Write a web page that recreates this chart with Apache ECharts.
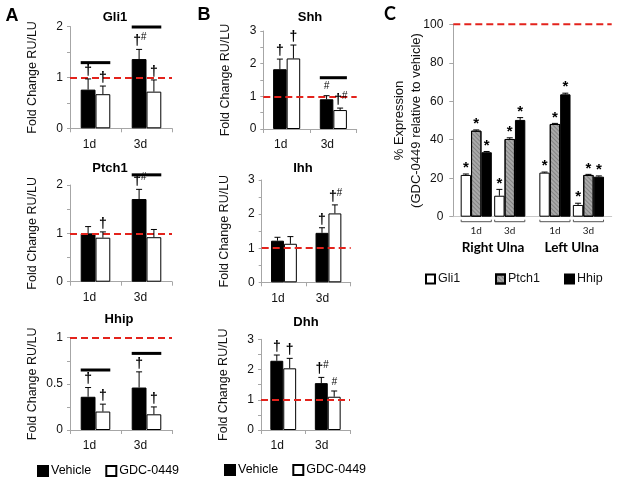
<!DOCTYPE html>
<html><head><meta charset="utf-8">
<script src="https://cdn.jsdelivr.net/npm/echarts@6/dist/echarts.min.js"></script>
<style>html,body{margin:0;padding:0;background:#fff}#c{width:621px;height:479px}</style>
</head><body><div id="c"></div>
<script>
// ---------- data ----------
const days = ['1d', '3d'];
// Panel A
const gli1Vehicle = [0.76, 1.36];
const gli1VehicleErr = [0.21, 0.19];
const gli1Gdc = [0.67, 0.72];
const gli1GdcErr = [0.16, 0.23];
const gli1VehicleSig = ['†', '†#'];
const gli1GdcSig = ['†', '†'];
const gli1Bars = [1.29, 1.99];

const ptch1Vehicle = [1.00, 1.71];
const ptch1VehicleErr = [0.14, 0.20];
const ptch1Gdc = [0.91, 0.92];
const ptch1GdcErr = [0.12, 0.16];
const ptch1VehicleSig = ['', '†#'];
const ptch1GdcSig = ['†', ''];
const ptch1Bars = [null, 2.21];

const hhipVehicle = [0.36, 0.46];
const hhipVehicleErr = [0.10, 0.17];
const hhipGdc = [0.20, 0.17];
const hhipGdcErr = [0.08, 0.08];
const hhipVehicleSig = ['†', '†'];
const hhipGdcSig = ['†', '†'];
const hhipBars = [0.65, 0.83];

// Panel B
const shhVehicle = [1.83, 0.91];
const shhVehicleErr = [0.31, 0.11];
const shhGdc = [2.16, 0.58];
const shhGdcErr = [0.41, 0.06];
const shhVehicleSig = ['†', '#'];
const shhGdcSig = ['†', '†#'];
const shhBars = [null, 1.57];

const ihhVehicle = [1.22, 1.45];
const ihhVehicleErr = [0.10, 0.15];
const ihhGdc = [1.13, 2.02];
const ihhGdcErr = [0.21, 0.25];
const ihhVehicleSig = ['', '†'];
const ihhGdcSig = ['', '†#'];
const ihhBars = [null, null];

const dhhVehicle = [2.29, 1.55];
const dhhVehicleErr = [0.19, 0.19];
const dhhGdc = [2.04, 1.10];
const dhhGdcErr = [0.33, 0.19];
const dhhVehicleSig = ['†', '†#'];
const dhhGdcSig = ['†', '#'];
const dhhBars = [null, null];

const foldRef = 1;

// Panel C (% expression, GDC-0449 relative to vehicle)
const cRightGli1 = [21.7, 10.9];
const cRightGli1Err = [0.5, 3.3];
const cRightPtch1 = [44.7, 40.4];
const cRightPtch1Err = [0.4, 0.6];
const cRightHhip = [33.5, 50.3];
const cRightHhipErr = [0.4, 1.2];
const cLeftGli1 = [22.9, 6.1];
const cLeftGli1Err = [0.3, 0.9];
const cLeftPtch1 = [48.2, 21.7];
const cLeftPtch1Err = [0.3, 0.3];
const cLeftHhip = [63.6, 20.8];
const cLeftHhipErr = [0.6, 0.4];
const cSig = ['*', '*'];
const cRef = 100;
const cTicks = [0, 100, 20];

// ---------- layout / styles ----------
const F = "'Liberation Sans', Arial, sans-serif";
const AX = '#a6a6a6';
const RED = '#e3231c';

const panels = [
  {name:'Gli1', veh:gli1Vehicle, vehErr:gli1VehicleErr, gdc:gli1Gdc, gdcErr:gli1GdcErr, vehSig:gli1VehicleSig, gdcSig:gli1GdcSig, lines:gli1Bars, max:2, interval:1,
   grid:{left:70, width:102, top:26.5, height:101.8}, title:[115, 17]},
  {name:'Ptch1', veh:ptch1Vehicle, vehErr:ptch1VehicleErr, gdc:ptch1Gdc, gdcErr:ptch1GdcErr, vehSig:ptch1VehicleSig, gdcSig:ptch1GdcSig, lines:ptch1Bars, max:2, interval:1,
   grid:{left:70, width:102, top:185, height:96.7}, title:[110, 168]},
  {name:'Hhip', veh:hhipVehicle, vehErr:hhipVehicleErr, gdc:hhipGdc, gdcErr:hhipGdcErr, vehSig:hhipVehicleSig, gdcSig:hhipGdcSig, lines:hhipBars, max:1, interval:0.5,
   grid:{left:70, width:102, top:337.7, height:92.3}, title:[119, 319.5]},
  {name:'Shh', veh:shhVehicle, vehErr:shhVehicleErr, gdc:shhGdc, gdcErr:shhGdcErr, vehSig:shhVehicleSig, gdcSig:shhGdcSig, lines:shhBars, max:3, interval:1,
   grid:{left:263.3, width:93.4, top:31, height:98}, title:[310, 17]},
  {name:'Ihh', veh:ihhVehicle, vehErr:ihhVehicleErr, gdc:ihhGdc, gdcErr:ihhGdcErr, vehSig:ihhVehicleSig, gdcSig:ihhGdcSig, lines:ihhBars, max:3, interval:1,
   grid:{left:261.7, width:89, top:180, height:102.3}, title:[303, 168.5]},
  {name:'Dhh', veh:dhhVehicle, vehErr:dhhVehicleErr, gdc:dhhGdc, gdcErr:dhhGdcErr, vehSig:dhhVehicleSig, gdcSig:dhhGdcSig, lines:dhhBars, max:3, interval:1,
   grid:{left:261, width:89, top:339.3, height:90.7}, title:[306, 322.7]}
];

function txt(t, x, y, font) {
  return {type:'text', style:{text:t, x:x, y:y, fill:'#000', font:font,
    align:'center', verticalAlign:'middle', textAlign:'center', textVerticalAlign:'middle'}};
}

function sigElems(s, x, y) {
  const out = [];
  if (!s) return out;
  const hasD = s.indexOf('†') >= 0, hasH = s.indexOf('#') >= 0, hasA = s.indexOf('*') >= 0;
  const dFont = 'bold 14px ' + F, hFont = 'italic 10px ' + F;
  if (hasA) out.push(txt('*', x, y - 6, 'bold 15px ' + F));
  if (hasD && hasH) {
    out.push(txt('†', x - 2, y - 8, dFont));
    out.push(txt('#', x + 4.5, y - 12, hFont));
  } else if (hasD) {
    out.push(txt('†', x, y - 8, dFont));
  } else if (hasH) {
    out.push(txt('#', x, y - 9, hFont));
  }
  return out;
}

function errSeries(gi, groups, barPct) {
  const n = groups.length;
  const items = [], sigs = [];
  groups.forEach((g, s) => g.vals.forEach((v, i) => { items.push([i, v, v + g.errs[i], s]); sigs.push(g.sigs[i]); }));
  return {
    type:'custom', xAxisIndex:gi, yAxisIndex:gi, z:6, silent:true, data:items, clip:false,
    renderItem(params, api) {
      const cat = api.value(0), v = api.value(1), top = api.value(2), s = api.value(3);
      const cw = api.size([1, 0])[0], bw = cw * barPct;
      const b = api.coord([cat, v]), t = api.coord([cat, top]);
      const x = b[0] + (s - (n - 1) / 2) * bw;
      const ch = [
        {type:'line', shape:{x1:x, y1:b[1], x2:x, y2:t[1]}, style:{stroke:'#000', lineWidth:1}},
        {type:'line', shape:{x1:x - 3, y1:t[1], x2:x + 3, y2:t[1]}, style:{stroke:'#000', lineWidth:1}}
      ].concat(sigElems(sigs[params.dataIndex], x, t[1]));
      return {type:'group', children:ch};
    }
  };
}

function sigLineSeries(gi, lines, barPct) {
  const data = [];
  lines.forEach((v, i) => { if (v != null) data.push([i, v]); });
  return {
    type:'custom', xAxisIndex:gi, yAxisIndex:gi, z:6, silent:true, data:data, clip:false,
    renderItem(params, api) {
      const p = api.coord([api.value(0), api.value(1)]);
      const bw = api.size([1, 0])[0] * barPct;
      return {type:'line', shape:{x1:p[0] - bw, y1:p[1], x2:p[0] + bw, y2:p[1]}, style:{stroke:'#000', lineWidth:3}};
    }
  };
}

const grids = [], xAxes = [], yAxes = [], series = [], graphics = [];
const BP = 0.29;

panels.forEach((p, gi) => {
  grids.push(p.grid);
  xAxes.push({type:'category', gridIndex:gi, data:days,
    axisLine:{lineStyle:{color:AX}}, axisTick:{show:true, length:4, lineStyle:{color:AX}},
    axisLabel:{fontSize:12, fontFamily:F, color:'#111', margin:10, padding:[0, 12, 0, 0]}});
  yAxes.push({type:'value', gridIndex:gi, min:0, max:p.max, interval:p.interval,
    name:'Fold Change RU/LU', nameLocation:'middle', nameGap:31,
    nameTextStyle:{fontSize:12.5, fontFamily:F, color:'#111'},
    axisLine:{show:true, lineStyle:{color:AX}}, axisTick:{show:true, length:3, lineStyle:{color:AX}},
    minorTick:{show:true, splitNumber:2, length:3, lineStyle:{color:AX}},
    splitLine:{show:false},
    axisLabel:{fontSize:12, fontFamily:F, color:'#111', margin:7}});
  series.push({type:'bar', name:'Vehicle', xAxisIndex:gi, yAxisIndex:gi, data:p.veh, barWidth:'29%', barGap:'0%',
    itemStyle:{color:'#000', borderColor:'#000', borderWidth:1}});
  series.push({type:'bar', name:'GDC-0449', xAxisIndex:gi, yAxisIndex:gi, data:p.gdc, barWidth:'29%', barGap:'0%',
    itemStyle:{color:'#fff', borderColor:'#000', borderWidth:1},
    markLine:{silent:true, symbol:'none', z:5, label:{show:false},
      lineStyle:{color:RED, type:[7, 4], width:2}, data:[{yAxis:foldRef}]}});
  series.push(errSeries(gi, [{vals:p.veh, errs:p.vehErr, sigs:p.vehSig}, {vals:p.gdc, errs:p.gdcErr, sigs:p.gdcSig}], BP));
  series.push(sigLineSeries(gi, p.lines, BP));
  graphics.push({type:'text', x:p.title[0], y:p.title[1], style:{text:p.name, font:'bold 13px ' + F, fill:'#000',
    align:'center', verticalAlign:'middle', textAlign:'center', textVerticalAlign:'middle'}});
});

// Panel C: frame grid (6), right ulna (7), left ulna (8)
const cTop = 24.3, cH = 192.4;
grids.push({left:453.3, right:9.3, top:cTop, height:cH});
grids.push({left:459.5, width:67, top:cTop, height:cH});
grids.push({left:538.2, width:67, top:cTop, height:cH});
xAxes.push({type:'value', gridIndex:6, min:0, max:1, axisLine:{show:true, lineStyle:{color:'#c8c8c8'}},
  axisTick:{show:false}, axisLabel:{show:false}, splitLine:{show:false}});
yAxes.push({type:'value', gridIndex:6, min:cTicks[0], max:cTicks[1], interval:cTicks[2],
  name:'% Expression\n(GDC-0449 relative to vehicle)', nameLocation:'middle', nameGap:28, nameMoveOverlap:false,
  nameTextStyle:{fontSize:13, fontFamily:F, color:'#111', lineHeight:17},
  axisLine:{show:true, lineStyle:{color:AX}}, axisTick:{show:true, length:4, lineStyle:{color:AX}},
  splitLine:{show:false}, axisLabel:{fontSize:12, fontFamily:F, color:'#111', margin:10}});
series.push({type:'custom', xAxisIndex:6, yAxisIndex:6, z:5, silent:true, clip:false, data:[[0, cRef]],
  renderItem(params, api) {
    const cs = params.coordSys; const p = api.coord([0, api.value(1)]);
    return {type:'line', shape:{x1:cs.x, y1:p[1], x2:cs.x + cs.width, y2:p[1]},
      style:{stroke:RED, lineWidth:2, lineDash:[7, 4]}};
  }});

const sides = [
  {gi:7, name:'Right Ulna', g:cRightGli1, ge:cRightGli1Err, p:cRightPtch1, pe:cRightPtch1Err, h:cRightHhip, he:cRightHhipErr},
  {gi:8, name:'Left Ulna', g:cLeftGli1, ge:cLeftGli1Err, p:cLeftPtch1, pe:cLeftPtch1Err, h:cLeftHhip, he:cLeftHhipErr}
];
const CBP = 0.31;
sides.forEach(sd => {
  xAxes.push({type:'category', gridIndex:sd.gi, data:days, axisLine:{show:false}, axisTick:{show:false},
    axisLabel:{fontSize:10, fontFamily:'Lato, sans-serif', color:'#222', margin:9},
    name:sd.name, nameLocation:'middle', nameGap:24,
    nameTextStyle:{fontSize:13.5, fontWeight:'bold', fontFamily:'Lato, sans-serif', color:'#000'}});
  yAxes.push({type:'value', gridIndex:sd.gi, min:cTicks[0], max:cTicks[1], show:false, splitLine:{show:false}});
  series.push({type:'bar', name:'Gli1', xAxisIndex:sd.gi, yAxisIndex:sd.gi, data:sd.g, barWidth:'31%', barGap:'0%',
    itemStyle:{color:'#fff', borderColor:'#000', borderWidth:1}});
  series.push({type:'bar', name:'Ptch1', xAxisIndex:sd.gi, yAxisIndex:sd.gi, data:sd.p, barWidth:'31%', barGap:'0%',
    itemStyle:{color:'#a9a9a9', borderColor:'#000', borderWidth:1,
      decal:{symbol:'rect', symbolSize:1, dashArrayX:[1, 0], dashArrayY:[1, 2], rotation:Math.PI / 4, color:'rgba(60,60,60,0.35)'}}});
  series.push({type:'bar', name:'Hhip', xAxisIndex:sd.gi, yAxisIndex:sd.gi, data:sd.h, barWidth:'31%', barGap:'0%',
    itemStyle:{color:'#000', borderColor:'#000', borderWidth:1}});
  series.push(errSeries(sd.gi, [{vals:sd.g, errs:sd.ge, sigs:cSig}, {vals:sd.p, errs:sd.pe, sigs:cSig}, {vals:sd.h, errs:sd.he, sigs:cSig}], CBP));
  // bracket under each category (multi-level axis look)
  series.push({type:'custom', xAxisIndex:sd.gi, yAxisIndex:sd.gi, z:5, silent:true, clip:false,
    data:days.map((d, i) => [i, 0]),
    renderItem(params, api) {
      const p = api.coord([api.value(0), 0]);
      const half = api.size([1, 0])[0] * 0.45;
      const y = p[1] + 5;
      return {type:'polyline', shape:{points:[[p[0] - half, y - 2], [p[0] - half, y], [p[0] + half, y], [p[0] + half, y - 2]]},
        style:{stroke:'#555', lineWidth:1, fill:null}};
    }});
});

// panel letters
graphics.push({type:'text', x:12, y:16, style:{text:'A', font:'bold 18px ' + F, fill:'#000', align:'center', verticalAlign:'middle', textAlign:'center', textVerticalAlign:'middle'}});
graphics.push({type:'text', x:204, y:15, style:{text:'B', font:'bold 18px ' + F, fill:'#000', align:'center', verticalAlign:'middle', textAlign:'center', textVerticalAlign:'middle'}});
graphics.push({type:'text', x:390, y:14, style:{text:'C', font:'bold 18px Lato, sans-serif', fill:'#000', align:'center', verticalAlign:'middle', textAlign:'center', textVerticalAlign:'middle'}});

const legText = {fontSize:12.5, fontFamily:F, color:'#000', padding:[0, 0, 0, -2]};
const legendC = {fontSize:12.5, fontFamily:F, color:'#111', padding:[0, 0, 0, -2]};
const option = {
  animation:false,
  backgroundColor:'#fff',
  grid:grids, xAxis:xAxes, yAxis:yAxes, series:series, graphic:graphics,
  legend:[
    {data:['Vehicle', 'GDC-0449'], left:37, top:464.5, padding:0, icon:'rect', itemWidth:10, itemHeight:10, itemGap:14, textStyle:legText, selectedMode:false},
    {data:['Vehicle', 'GDC-0449'], left:224, top:463.5, padding:0, icon:'rect', itemWidth:10, itemHeight:10, itemGap:14, textStyle:legText, selectedMode:false},
    {data:['Gli1'], left:425, top:272.5, padding:0, icon:'rect', itemWidth:9, itemHeight:9, textStyle:legendC, selectedMode:false},
    {data:['Ptch1'], left:495, top:272.5, padding:0, icon:'rect', itemWidth:9, itemHeight:9, textStyle:legendC, selectedMode:false},
    {data:['Hhip'], left:564, top:272.5, padding:0, icon:'rect', itemWidth:9, itemHeight:9, textStyle:legendC, selectedMode:false}
  ]
};
const chart = echarts.init(document.getElementById('c'), null, {renderer:'canvas'});
chart.setOption(option);
</script></body></html>
